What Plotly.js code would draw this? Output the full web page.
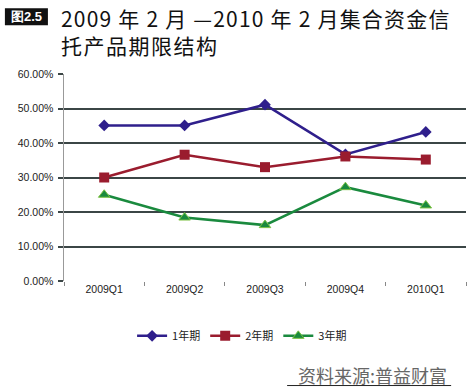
<!DOCTYPE html>
<html><head><meta charset="utf-8">
<script src="https://cdn.plot.ly/plotly-3.0.1.min.js"></script>
<style>body{margin:0;background:#fff}#c{width:470px;height:392px}</style>
</head><body><div id="c"></div>
<script>
const categories = ['2009Q1','2009Q2','2009Q3','2009Q4','2010Q1'];
const oneYear = [0.451, 0.451, 0.511, 0.367, 0.432];
const twoYear = [0.300, 0.366, 0.330, 0.361, 0.352];
const threeYear = [0.250, 0.184, 0.162, 0.272, 0.219];
const seriesNames = ['1年期','2年期','3年期'];
const yTicks = [0,0.1,0.2,0.3,0.4,0.5,0.6];
const yTickText = ['0.00%','10.00%','20.00%','30.00%','40.00%','50.00%','60.00%'];

const tickFont = {family:'Liberation Sans, Arial, sans-serif', size:10.5, color:'#222'};
const traces = [
  {x:categories, y:oneYear, name:seriesNames[0], type:'scatter', mode:'lines+markers',
   line:{color:'#2f1f8c', width:2.5}, marker:{symbol:'diamond', size:9, color:'#2f1f8c'}},
  {x:categories, y:twoYear, name:seriesNames[1], type:'scatter', mode:'lines+markers',
   line:{color:'#9a1c2e', width:2.5}, marker:{symbol:'square', size:10, color:'#9a1c2e'}},
  {x:categories, y:threeYear, name:seriesNames[2], type:'scatter', mode:'lines+markers',
   line:{color:'#1a8a3e', width:2.5}, marker:{symbol:'triangle-up', size:10, color:'#1a8a3e', line:{color:'#7cc242', width:1}}}
];
const layout = {
  width:470, height:392,
  margin:{l:64, r:4, t:73.5, b:111.3},
  paper_bgcolor:'#fff', plot_bgcolor:'#fff',
  showlegend:true,
  legend:{orientation:'h', x:0.443, xanchor:'center', y:-0.265, yanchor:'middle',
    font:{family:'Noto Sans CJK SC, sans-serif', size:11, color:'#222'}, tracegroupgap:0},
  xaxis:{type:'category', range:[-0.5,4.5], showgrid:false, zeroline:false,
    showline:false, ticks:'outside', tickson:'boundaries', ticklen:4, tickcolor:'#888', tickwidth:1,
    tickfont:tickFont, fixedrange:true},
  yaxis:{range:[0,0.6], tickvals:yTicks, ticktext:yTickText, showgrid:true, gridcolor:'#3b4646', gridwidth:2,
    zeroline:false, showline:true, linecolor:'#999', linewidth:1.5, ticks:'outside', ticklen:5,
    tickcolor:'#3b4646', tickwidth:2, tickfont:tickFont, ticklabelstandoff:2},
  shapes:[
    {type:'rect', xref:'paper', yref:'paper', x0:-0.147, x1:-0.040, y0:1.236, y1:1.318, fillcolor:'#111', line:{width:0}, layer:'above'},
    {type:'line', xref:'paper', yref:'paper', x0:0.555, x1:0.963, y0:-0.505, y1:-0.505, line:{color:'#222', width:1}}
  ],
  annotations:[
    {xref:'paper', yref:'paper', x:-0.093, y:1.277, text:'<b>图2.5</b>', showarrow:false, xanchor:'center', yanchor:'middle',
      font:{family:'Liberation Sans, Arial, sans-serif', size:13, color:'#fff'}},
    {xref:'paper', yref:'paper', x:-0.012, y:1.352, xanchor:'left', yanchor:'top', showarrow:false, align:'left',
      text:'<span style="letter-spacing:1.2px">2009 年 2 月 —2010 年 2 月集合资金信</span><br><span style="letter-spacing:1.5px">托产品期限结构</span>',
      font:{family:'Noto Sans CJK SC, Liberation Sans, sans-serif', size:21, color:'#111'}},
    {xref:'paper', yref:'paper', x:0.958, y:-0.455, xanchor:'right', yanchor:'middle', showarrow:false,
      text:'资料来源:普益财富',
      font:{family:'Noto Sans CJK SC, sans-serif', size:18, color:'#666'}}
  ]
};
Plotly.newPlot('c', traces, layout, {displayModeBar:false, staticPlot:true});
</script></body></html>
